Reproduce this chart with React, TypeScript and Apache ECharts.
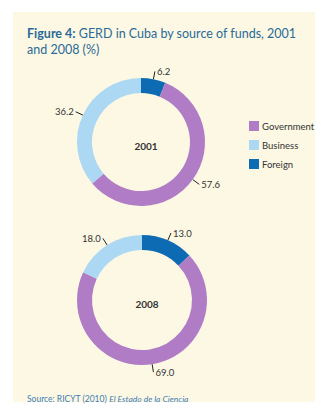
import React, { useEffect, useRef } from "react";
import * as echarts from "echarts";

const sources = ["Foreign", "Government", "Business"];
const legendOrder = ["Government", "Business", "Foreign"];
const values2001 = [6.2, 57.6, 36.2];
const values2008 = [13.0, 69.0, 18.0];
const colors: Record<string, string> = {
  Government: "#b07cc6",
  Business: "#acd8f4",
  Foreign: "#0d6bb3",
};

const FONT = "Lato, 'Open Sans', sans-serif";

function makeSeries(name: string, values: number[], center: [number, number], radius: [number, number]) {
  return {
    type: "pie",
    name,
    center,
    radius,
    startAngle: 90,
    clockwise: true,
    avoidLabelOverlap: false,
    data: sources.map((s, i) => ({
      name: s,
      value: values[i],
      itemStyle: { color: colors[s] },
    })),
    label: {
      show: true,
      position: "outside",
      formatter: (p: any) => p.value.toFixed(1),
      fontSize: 9.5,
      fontFamily: FONT,
      color: "#333",
      distanceToLabelLine: 2,
    },
    labelLine: {
      show: true,
      length: 8,
      length2: 0,
      lineStyle: { color: "#222", width: 1 },
    },
    emphasis: { disabled: true },
  };
}

export default function App() {
  const ref = useRef<HTMLDivElement>(null);
  useEffect(() => {
    if (!ref.current) return;
    const chart = echarts.init(ref.current, null, { renderer: "svg" });
    chart.setOption({
      animation: false,
      backgroundColor: "#ffffff",
      graphic: [
        {
          type: "rect",
          shape: { x: 13, y: 12, width: 302, height: 390 },
          style: { fill: "#fcf8e4" },
          z: -10,
        },
      ],
      title: [
        {
          text: "{b|Figure 4:} GERD in Cuba by source of funds, 2001\nand 2008 (%)",
          left: 22,
          top: 20,
          textStyle: {
            fontFamily: FONT,
            fontSize: 12.5,
            fontWeight: "normal",
            color: "#2a6a98",
            lineHeight: 16,
            rich: {
              b: { fontFamily: FONT, fontSize: 12.5, fontWeight: "bold", color: "#2a6a98", lineHeight: 16 },
            },
          },
        },
        {
          text: "2001",
          left: 141,
          top: 136,
          textAlign: "center",
          textStyle: { fontFamily: FONT, fontSize: 10, fontWeight: "bold", color: "#333" },
        },
        {
          text: "2008",
          left: 142,
          top: 294,
          textAlign: "center",
          textStyle: { fontFamily: FONT, fontSize: 10, fontWeight: "bold", color: "#333" },
        },
        {
          text: "Source: RICYT (2010) {i|El Estado de la Ciencia}",
          left: 22,
          top: 389,
          textStyle: {
            fontFamily: FONT,
            fontSize: 8.5,
            fontWeight: "normal",
            color: "#3f7db3",
            rich: {
              i: { fontFamily: FONT, fontSize: 8.5, fontStyle: "italic", color: "#3f7db3" },
            },
          },
        },
      ],
      legend: {
        orient: "vertical",
        left: 244,
        top: 116,
        itemWidth: 10,
        itemHeight: 10,
        itemGap: 9,
        icon: "rect",
        data: legendOrder,
        textStyle: { fontFamily: FONT, fontSize: 9.5, color: "#333", padding: [0, 0, 0, -2] },
        selectedMode: false,
      },
      series: [
        makeSeries("2001", values2001, [141, 142], [49, 64]),
        makeSeries("2008", values2008, [142, 300], [50, 65]),
      ],
    });
    return () => chart.dispose();
  }, []);
  return (
    <div
      ref={ref}
      style={{ position: "absolute", left: 0, top: 0, width: 321, height: 409 }}
    />
  );
}
